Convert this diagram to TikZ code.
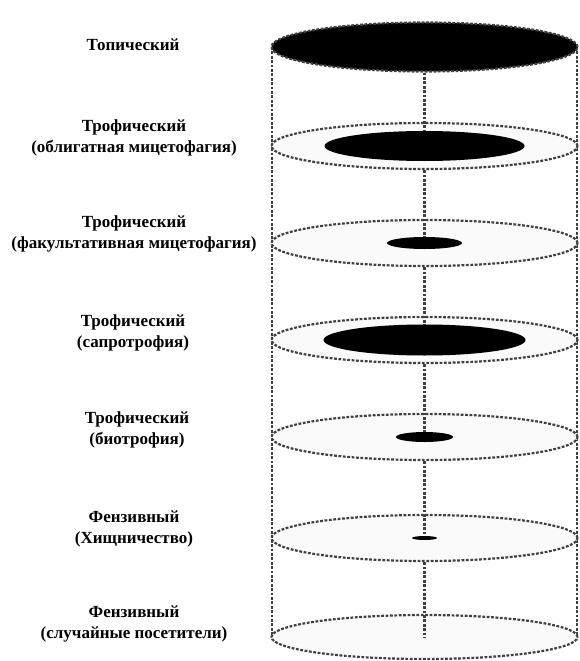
\documentclass[tikz,border=0pt]{standalone}
\usepackage{fontspec}
\setmainfont{Liberation Serif}
\usepackage{xcolor}
\usepackage{tikz}
\usetikzlibrary{shapes.geometric}
\definecolor{lvdash}{HTML}{404040}
\definecolor{lvdisk}{HTML}{FAFAFA}

\tikzset{
  lvline/.style={draw=lvdash, line width=2.2pt, dash pattern=on 2.8pt off 1.6pt},
  lvdisk/.style={lvline, ellipse, fill=lvdisk, minimum width=306pt, minimum height=46pt, inner sep=0pt},
  lvblob/.style={ellipse, fill=black, inner sep=0pt},
  lvlabel/.style={align=center, font=\fontsize{17}{21}\selectfont\bfseries}
}

\begin{document}
\begin{tikzpicture}[x=1pt, y=-1pt]
  \useasboundingbox (0,0) rectangle (580,661);
  % cylinder walls
  \coordinate (wallTL) at (272,47);
  \coordinate (wallBL) at (272,637);
  \coordinate (wallTR) at (577,47);
  \coordinate (wallBR) at (577,637);
  \draw[lvline] (wallTL) -- (wallBL);
  \draw[lvline] (wallTR) -- (wallBR);
  % levels
  \node[lvdisk] (lv2) at (424.5,146) {};
  \node[lvdisk] (lv3) at (424.5,243) {};
  \node[lvdisk] (lv4) at (424.5,340) {};
  \node[lvdisk] (lv5) at (424.5,437) {};
  \node[lvdisk] (lv6) at (424.5,538) {};
  \node[lvdisk, minimum height=44pt] (lv7) at (424.5,637) {};
  \node[lvdisk, fill=black, minimum height=49pt] (lv1) at (424.5,47) {};
  % axis
  \draw[lvline] (lv1.south) -- (lv2.center);
  \draw[lvline] (lv2.south) -- (lv3.center);
  \draw[lvline] (lv3.south) -- (lv4.center);
  \draw[lvline] (lv4.south) -- (lv5.center);
  \draw[lvline] (lv5.south) -- (lv6.center);
  \draw[lvline] (lv6.south) -- (lv7.center);
  % shares
  \node[lvblob, minimum width=200pt, minimum height=30pt] (blob2) at (lv2.center) {};
  \node[lvblob, minimum width=75pt, minimum height=12pt] (blob3) at (lv3.center) {};
  \node[lvblob, minimum width=202pt, minimum height=31pt] (blob4) at (lv4.center) {};
  \node[lvblob, minimum width=57pt, minimum height=10pt] (blob5) at (lv5.center) {};
  \node[lvblob, minimum width=25pt, minimum height=4pt] (blob6) at (lv6.center) {};
  % labels
  \node[lvlabel] (txt1) at (133,45) {Топический};
  \node[lvlabel] (txt2) at (134,138) {Трофический\\(облигатная мицетофагия)};
  \node[lvlabel] (txt3) at (134,234) {Трофический\\(факультативная мицетофагия)};
  \node[lvlabel] (txt4) at (133,333) {Трофический\\(сапротрофия)};
  \node[lvlabel] (txt5) at (137,430) {Трофический\\(биотрофия)};
  \node[lvlabel] (txt6) at (134,529) {Фензивный\\(Хищничество)};
  \node[lvlabel] (txt7) at (134,624) {Фензивный\\(случайные посетители)};
\end{tikzpicture}
\end{document}
